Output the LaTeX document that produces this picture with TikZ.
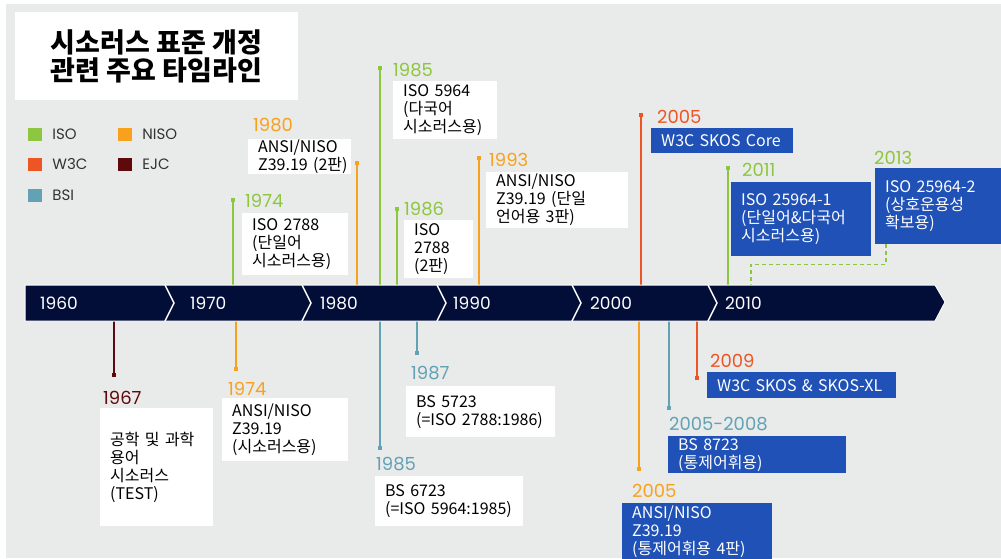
\documentclass[tikz,border=0pt]{standalone}
\usepackage{fontspec}
\newfontfamily\krfont{Noto Sans CJK KR}
\newfontfamily\yrfont{Poppins}
\usetikzlibrary{positioning}

\definecolor{bggray}{HTML}{E9EAEA}
\definecolor{navybar}{HTML}{020D38}
\definecolor{boxblue}{HTML}{1F51B6}
\definecolor{isogreen}{HTML}{8DC63F}
\definecolor{nisoorange}{HTML}{F8A11D}
\definecolor{wthreered}{HTML}{EE5524}
\definecolor{ejcred}{HTML}{5E0A0C}
\definecolor{bsiteal}{HTML}{62A2B4}
\definecolor{legendtext}{HTML}{333333}

\tikzset{
  infobox/.style={fill=white, text=black, anchor=north west, align=left,
    inner xsep=10pt, inner ysep=0pt, font=\krfont\fontsize{16}{18}\selectfont},
  bluebox/.style={infobox, fill=boxblue, text=white},
  yearlbl/.style={anchor=west, inner sep=0pt, font=\yrfont\fontsize{18}{18}\selectfont},
  decade/.style={anchor=west, inner sep=0pt, text=white, font=\yrfont\fontsize{17}{17}\selectfont},
  stem/.style={line width=2pt},
  enddot/.style={fill, inner sep=0pt, minimum size=4.5pt},
  legsq/.style={inner sep=0pt, minimum width=14pt, minimum height=13pt},
  legtxt/.style={inner sep=0pt, text=legendtext, font=\yrfont\fontsize{15}{15}\selectfont},
}

\begin{document}
\begin{tikzpicture}[x=1pt, y=-1pt]
        \useasboundingbox (0,0) rectangle (1001,558);
        \fill[bggray] (6,4) rectangle (1001,558);

        % title
        \node[fill=white, minimum width=283pt, minimum height=88pt, align=center,
          font=\krfont\bfseries\fontsize{27}{28}\selectfont] (title) at (156.5,56)
          {시소러스 표준 개정\\관련 주요 타임라인};

        % legend
        \node[legsq, fill=isogreen] (sqiso) at (35,134) {};
        \node[legtxt, right=10pt of sqiso] (lgiso) {ISO};
        \node[legsq, fill=nisoorange] (sqniso) at (125,134) {};
        \node[legtxt, right=10pt of sqniso] (lgniso) {NISO};
        \node[legsq, fill=wthreered] (sqw3c) at (35,164) {};
        \node[legtxt, right=10pt of sqw3c] (lgw3c) {W3C};
        \node[legsq, fill=ejcred] (sqejc) at (125,164) {};
        \node[legtxt, right=10pt of sqejc] (lgejc) {EJC};
        \node[legsq, fill=bsiteal] (sqbsi) at (35,195) {};
        \node[legtxt, right=10pt of sqbsi] (lgbsi) {BSI};

        % attach points on the bar
        \coordinate (t1974i) at (233,285);
        \coordinate (t1980n) at (357,285);
        \coordinate (t1985i) at (380,285);
        \coordinate (t1986i) at (397,285);
        \coordinate (t1993n) at (479,285);
        \coordinate (t2005w) at (641,285);
        \coordinate (t2011i) at (728,285);
        \coordinate (t2013i) at (751,285);
        \coordinate (t1967e) at (114,321);
        \coordinate (t1974n) at (236,321);
        \coordinate (t1985b) at (380,321);
        \coordinate (t1987b) at (417,321);
        \coordinate (t2005n) at (639,321);
        \coordinate (t2008b) at (669,321);
        \coordinate (t2009w) at (697,321);

        % upper events
        \node[enddot, isogreen] (d1974i) at (233,200) {};
        \draw[stem, isogreen] (d1974i.center) -- (t1974i);
        \node[yearlbl, isogreen] (y1974i) at (245,201) {1974};
        \node[infobox, text width=86pt, minimum height=62pt] (b1974i) at (242,213)
          {ISO 2788\\(단일어\\시소러스용)};

        \node[enddot, nisoorange] (d1980n) at (357,163) {};
        \draw[stem, nisoorange] (d1980n.center) -- (t1980n);
        \node[yearlbl, nisoorange] (y1980n) at (253,125) {1980};
        \node[infobox, text width=83pt, minimum height=35pt] (b1980n) at (248,139)
          {ANSI/NISO\\Z39.19~(2판)};

        \node[enddot, isogreen] (d1985i) at (380,68) {};
        \draw[stem, isogreen] (d1985i.center) -- (t1985i);
        \node[yearlbl, isogreen] (y1985i) at (393,70) {1985};
        \node[infobox, text width=84pt, minimum height=58pt] (b1985i) at (393,81)
          {ISO 5964\\(다국어\\시소러스용)};

        \node[enddot, isogreen] (d1986i) at (397,209) {};
        \draw[stem, isogreen] (d1986i.center) -- (t1986i);
        \node[yearlbl, isogreen] (y1986i) at (404,209) {1986};
        \node[infobox, text width=49pt, minimum height=58pt] (b1986i) at (404,220)
          {ISO\\2788\\(2판)};

        \node[enddot, nisoorange] (d1993n) at (479,158) {};
        \draw[stem, nisoorange] (d1993n.center) -- (t1993n);
        \node[yearlbl, nisoorange] (y1993n) at (489,160) {1993};
        \node[infobox, text width=122pt, minimum height=56pt] (b1993n) at (486,172)
          {ANSI/NISO\\Z39.19~(단일\\언어용~3판)};

        \node[enddot, wthreered] (d2005w) at (641,115) {};
        \draw[stem, wthreered] (d2005w.center) -- (t2005w);
        \node[yearlbl, wthreered] (y2005w) at (657,117) {2005};
        \node[bluebox, text width=122pt, minimum height=25pt] (b2005w) at (651,128)
          {W3C~SKOS~Core};

        \node[enddot, isogreen] (d2011i) at (728,168) {};
        \draw[stem, isogreen] (d2011i.center) -- (t2011i);
        \node[yearlbl, isogreen] (y2011i) at (742,170) {2011};
        \node[bluebox, text width=120pt, minimum height=74pt] (b2011i) at (731,182)
          {ISO~25964-1\\(단일어\&다국어\\시소러스용)};

        \node[yearlbl, isogreen] (y2013i) at (874,158) {2013};
        \node[bluebox, text width=106pt, minimum height=76pt] (b2013i) at (875,168)
          {ISO~25964-2\\(상호운용성\\확보용)};
        \draw[isogreen, line width=1.5pt, dash pattern=on 4pt off 3pt]
          (b2013i.south west) ++(11,0) -- ++(0,20) -| (t2013i);

        % lower events
        \node[enddot, ejcred] (d1967e) at (114,375) {};
        \draw[stem, ejcred] (t1967e) -- (d1967e.center);
        \node[yearlbl, ejcred] (y1967e) at (103,398) {1967};
        \node[infobox, text width=93pt, minimum height=118pt] (b1967e) at (100,408)
          {공학 및 과학\\용어\\시소러스\\(TEST)};

        \node[enddot, nisoorange] (d1974n) at (236,369) {};
        \draw[stem, nisoorange] (t1974n) -- (d1974n.center);
        \node[yearlbl, nisoorange] (y1974n) at (228,389) {1974};
        \node[infobox, text width=106pt, minimum height=63pt] (b1974n) at (222,398)
          {ANSI/NISO\\Z39.19\\(시소러스용)};

        \node[enddot, bsiteal] (d1985b) at (380,448) {};
        \draw[stem, bsiteal] (t1985b) -- (d1985b.center);
        \node[yearlbl, bsiteal] (y1985b) at (376,464) {1985};
        \node[infobox, text width=128pt, minimum height=50pt] (b1985b) at (375,476)
          {BS~6723\\(=ISO~5964:1985)};

        \node[enddot, bsiteal] (d1987b) at (417,353) {};
        \draw[stem, bsiteal] (t1987b) -- (d1987b.center);
        \node[yearlbl, bsiteal] (y1987b) at (411,373) {1987};
        \node[infobox, text width=129pt, minimum height=51pt] (b1987b) at (406,386)
          {BS~5723\\(=ISO~2788:1986)};

        \node[enddot, nisoorange] (d2005n) at (639,469) {};
        \draw[stem, nisoorange] (t2005n) -- (d2005n.center);
        \node[yearlbl, nisoorange] (y2005n) at (632,491) {2005};
        \node[bluebox, text width=130pt, minimum height=58pt] (b2005n) at (622,503)
          {ANSI/NISO\\Z39.19\\(통제어휘용~4판)};

        \node[enddot, bsiteal] (d2008b) at (669,408) {};
        \draw[stem, bsiteal] (t2008b) -- (d2008b.center);
        \node[yearlbl, bsiteal] (y2008b) at (669,424) {2005-2008};
        \node[bluebox, text width=158pt, minimum height=37pt] (b2008b) at (668,436)
          {BS~8723\\(통제어휘용)};

        \node[enddot, wthreered] (d2009w) at (697,378) {};
        \draw[stem, wthreered] (t2009w) -- (d2009w.center);
        \node[yearlbl, wthreered] (y2009w) at (710,361) {2009};
        \node[bluebox, text width=169pt, minimum height=26pt] (b2009w) at (707,372)
          {W3C~SKOS~\&~SKOS-XL};

        % timeline bar
        \draw[fill=navybar, draw=white, line width=1pt]
          (25,285) -- (935,285) -- (945,302) -- (935,321) -- (25,321) -- cycle;
        \draw[white, line width=1.5pt] (165,285) -- (174,303) -- (165,321);
        \draw[white, line width=1.5pt] (302,285) -- (311,303) -- (302,321);
        \draw[white, line width=1.5pt] (437,285) -- (446,303) -- (437,321);
        \draw[white, line width=1.5pt] (572,285) -- (581,303) -- (572,321);
        \draw[white, line width=1.5pt] (708,285) -- (717,303) -- (708,321);
        \node[decade] (dec1960) at (40,303) {1960};
        \node[decade] (dec1970) at (190,303) {1970};
        \node[decade] (dec1980) at (320,303) {1980};
        \node[decade] (dec1990) at (453,303) {1990};
        \node[decade] (dec2000) at (590,303) {2000};
        \node[decade] (dec2010) at (725,303) {2010};
      \end{tikzpicture}
\end{document}
